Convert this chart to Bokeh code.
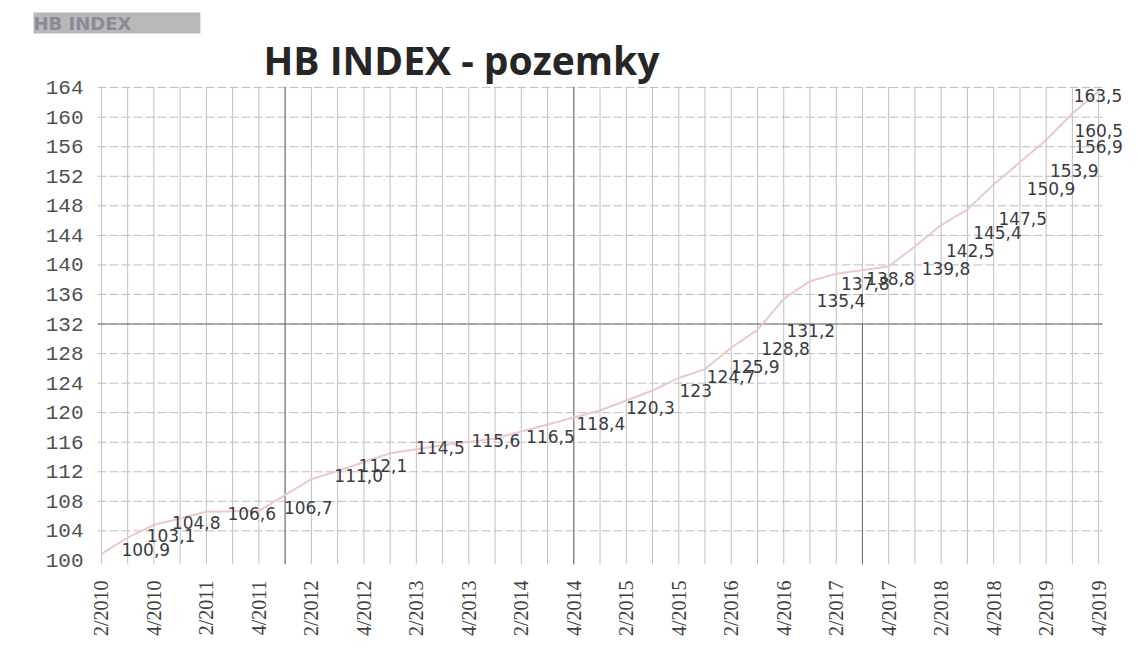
import math
from bokeh.plotting import figure
from bokeh.models import Range1d, FixedTicker, Title, ColumnDataSource
from bokeh.core.properties import value
from bokeh.embed import file_html
from bokeh.resources import INLINE

# ---- data ----
periods = ["2/2010", "3/2010", "4/2010", "2/2011", "4/2011", "2/2012", "3/2012",
           "1/2013", "3/2013", "1/2014", "3/2014", "1/2015", "3/2015", "4/2015",
           "1/2016", "2/2016", "3/2016", "4/2016", "1/2017", "2/2017", "4/2017",
           "1/2018", "2/2018", "3/2018", "4/2018", "1/2019", "2/2019", "3/2019",
           "4/2019"]
index_values = [100.9, 103.1, 104.8, 106.6, 106.7, 111.0, 112.1,
                114.5, 115.6, 116.5, 118.4, 120.3, 123.0, 124.7,
                125.9, 128.8, 131.2, 135.4, 137.8, 138.8, 139.8,
                142.5, 145.4, 147.5, 150.9, 153.9, 156.9, 160.5,
                163.5]
value_labels = ["100,9", "103,1", "104,8", "106,6", "106,7", "111,0", "112,1",
                "114,5", "115,6", "116,5", "118,4", "120,3", "123", "124,7",
                "125,9", "128,8", "131,2", "135,4", "137,8", "138,8", "139,8",
                "142,5", "145,4", "147,5", "150,9", "153,9", "156,9", "160,5",
                "163,5"]
tick_labels = ["2/2010", "4/2010", "2/2011", "4/2011", "2/2012", "4/2012",
               "2/2013", "4/2013", "2/2014", "4/2014", "2/2015", "4/2015",
               "2/2016", "4/2016", "2/2017", "4/2017", "2/2018", "4/2018",
               "2/2019", "4/2019"]
y_ticks = list(range(100, 165, 4))

# label placement (style, pixels)
label_dx = [20, 19, 18, 21, 25, 23, 21, 26, 29, 31, 29, 26, 27, 28, 26, 30, 29,
            33, 31, 30, 33, 31, 32, 31, 33, 30, 28, 2, -25]
label_dy = [-4, -2, -2, 2, -3, -4, -6, -6, -5, -2, -1, -3, 0, -1, -3, 1, 1,
            2, 2, 5, 2, 4, 7, 9, 4, 8, 6, 17, 4]

def q_index(per):
    q, y = per.split("/")
    return (int(y) - 2010) * 4 + (int(q) - 2)

xs = [q_index(p_) for p_ in periods]
tick_pos = [q_index(t) for t in tick_labels]
last_q = q_index("4/2019")
pad = 0.15
y_lo, y_hi = 99.45, 164.15

# scan crease lines seen on the printed chart
crease_h = [132]
crease_v = ["1/2012", "4/2014"]
crease_v_low = ["3/2017"]

src = ColumnDataSource(dict(x=xs, y=index_values, t=value_labels,
                            dx=label_dx, dy=label_dy))

p = figure(width=1122, height=641, output_backend="svg", toolbar_location=None,
           x_range=Range1d(-pad, 38.91), y_range=Range1d(y_lo, y_hi),
           min_border_left=97, min_border_right=0, min_border_top=86,
           min_border_bottom=77, title=None)
p.outline_line_color = None
p.background_fill_color = "white"
p.border_fill_color = "white"
p.grid.visible = False

# grid drawn only over the category span
gx0, gx1 = -pad, last_q + pad
p.multi_line(xs=[[gx0, gx1] for _ in y_ticks[1:]], ys=[[t, t] for t in y_ticks[1:]],
             line_color="#bcbcbc", line_width=1, line_dash="9 3")
p.multi_line(xs=[[q, q] for q in range(0, last_q + 1)],
             ys=[[y_lo, y_ticks[-1] + 0.1] for _ in range(0, last_q + 1)],
             line_color="#c0c0c0", line_width=1)
p.multi_line(xs=[[gx0, gx1] for _ in crease_h], ys=[[h, h] for h in crease_h],
             line_color="#6a6a6a", line_width=1)
p.multi_line(xs=[[q_index(c), q_index(c)] for c in crease_v],
             ys=[[y_lo, y_hi] for _ in crease_v], line_color="#6a6a6a", line_width=1)
p.multi_line(xs=[[q_index(c), q_index(c)] for c in crease_v_low],
             ys=[[y_lo, crease_h[0]] for _ in crease_v_low], line_color="#6a6a6a",
             line_width=1)

# axes
p.yaxis.ticker = FixedTicker(ticks=y_ticks)
p.yaxis.axis_line_color = None
p.yaxis.major_tick_line_color = None
p.yaxis.minor_tick_line_color = None
p.yaxis.major_label_standoff = 8
p.yaxis.major_label_text_font = "Liberation Mono"
p.yaxis.major_label_text_font_size = "21px"
p.yaxis.major_label_text_color = "#505050"

p.xaxis.ticker = FixedTicker(ticks=tick_pos)
p.xaxis.major_label_overrides = {tp: tl for tp, tl in zip(tick_pos, tick_labels)}
p.xaxis.axis_line_color = None
p.xaxis.major_tick_line_color = None
p.xaxis.minor_tick_line_color = None
p.xaxis.major_label_orientation = math.pi / 2
p.xaxis.major_label_standoff = 10
p.xaxis.major_label_text_font = "Liberation Serif"
p.xaxis.major_label_text_font_size = "20px"
p.xaxis.major_label_text_color = "#404040"

# series
p.line("x", "y", source=src, line_color="#e9c9cc", line_width=2)
p.text("x", "y", text="t", source=src, x_offset="dx", y_offset="dy",
       text_font=value("DejaVu Sans"), text_font_size="17px",
       text_color="#3a3a42", text_align="left", text_baseline="middle")

# title and logo
p.add_layout(Title(text="HB INDEX - pozemky", align="left", offset=166,
                   text_font="Open Sans", text_font_style="bold", text_font_size="39px",
                   text_color="#262626", standoff=2), "above")
p.add_layout(Title(text="  HB INDEX         ", align="left", offset=-64,
                   text_font="DejaVu Sans", text_font_style="bold",
                   text_font_size="18px", text_color="#8a8a96",
                   background_fill_color="#b8b8b8", standoff=-8), "above")

open("out.html", "w").write(file_html(p, INLINE))
